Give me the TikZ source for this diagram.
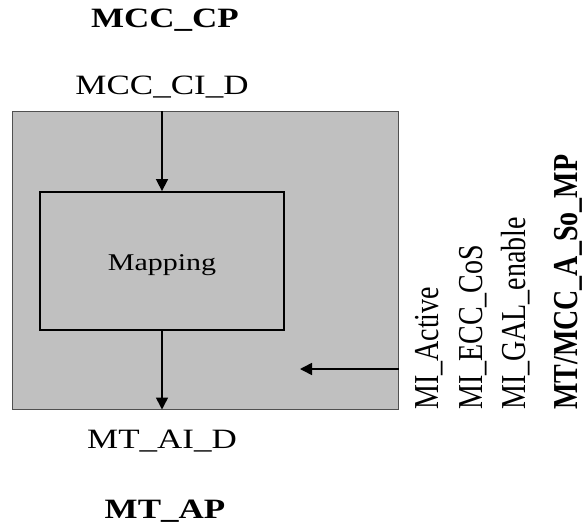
\documentclass[tikz,border=0pt]{standalone}
\usepackage{fontspec}
\setmainfont{Liberation Serif}
\usetikzlibrary{arrows.meta}
\definecolor{boxgray}{RGB}{192,192,192}
\definecolor{edgegray}{RGB}{80,80,80}
\newcommand{\hs}[1]{\scalebox{1.25}[1]{#1}}
\newcommand{\vs}[1]{\scalebox{1}[1.25]{#1}}
\tikzset{
  outerbox/.style={draw=edgegray, line width=1pt, fill=boxgray, minimum width=386pt, minimum height=297pt, inner sep=0pt},
  innerbox/.style={draw=black, line width=1.8pt, fill=boxgray, minimum width=244pt, minimum height=138pt, inner sep=0pt},
  sig/.style={line width=1.6pt, -{Triangle[length=12pt,width=12pt]}},
  lbl/.style={inner sep=0pt, anchor=base, font=\fontsize{28}{34}\selectfont},
  vlbl/.style={inner sep=0pt, anchor=base west, rotate=90, font=\fontsize{28}{34}\selectfont},
}
\begin{document}
\begin{tikzpicture}[x=1pt,y=-1pt]
\useasboundingbox (0,0) rectangle (586,524);
\node[outerbox] (outer) at (205,260.5) {};
\node[innerbox] (inner) at (162,261) {};
\node[lbl, font=\fontsize{24}{29}\selectfont] (maplbl) at (162,270) {\hs{Mapping}};
\node[lbl, font=\fontsize{28}{34}\selectfont\bfseries] (cp) at (165,28) {\hs{MCC\_CP}};
\node[lbl] (cid) at (162,95) {\hs{MCC\_CI\_D}};
\node[lbl] (aid) at (162,448) {\hs{MT\_AI\_D}};
\node[lbl, font=\fontsize{28}{34}\selectfont\bfseries] (ap) at (165,518) {\hs{MT\_AP}};
\node[vlbl] (mia) at (438,410) {\vs{MI\_Active}};
\node[vlbl] (mie) at (482,410) {\vs{MI\_ECC\_CoS}};
\node[vlbl] (mig) at (525,410) {\vs{MI\_GAL\_enable}};
\node[vlbl, font=\fontsize{28}{34}\selectfont\bfseries] (mp) at (577,410) {\vs{MT/MCC\_A\_So\_MP}};
\coordinate (tip) at (300,369);
\draw[sig] (inner.north |- outer.north) -- (inner.north);
\draw[sig] (inner.south) -- (inner.south |- outer.south);
\draw[sig] (tip -| outer.east) -- (tip);
\end{tikzpicture}
\end{document}
